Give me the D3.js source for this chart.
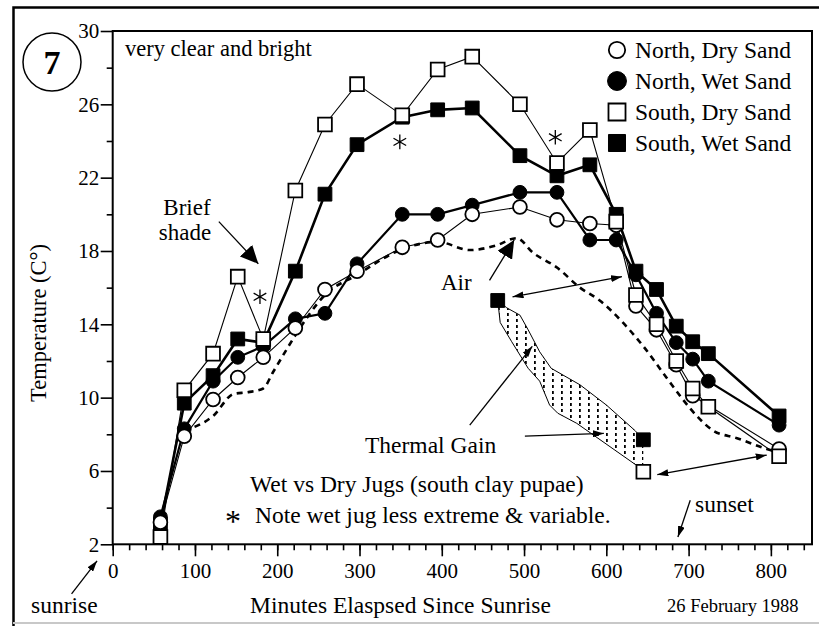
<!DOCTYPE html>
<html>
<head>
<meta charset="utf-8">
<script src="https://d3js.org/d3.v7.min.js"></script>
<style>
  body { margin: 0; background: #fff; }
  svg text { font-family: "Liberation Serif", "Times New Roman", serif; fill: #000; }
</style>
</head>
<body>
<svg id="chart" width="819" height="626"></svg>
<script>
// sample times (minutes since sunrise) and jug temperatures (C)
const minutes  = [58, 87, 122, 152, 183, 222, 258, 297, 352, 395, 437, 495, 540, 580, 612, 636, 661, 685, 705, 724, 810]
const northDry = [3.2, 7.9, 9.9, 11.1, 12.2, 13.8, 15.9, 16.9, 18.2, 18.6, 20.0, 20.4, 19.7, 19.5, 19.4, 15.0, 13.7, 11.8, 10.1, null, 7.2]
const northWet = [3.5, 8.3, 10.9, 12.2, 12.8, 14.3, 14.6, 17.3, 20.0, 20.0, 20.5, 21.2, 21.2, 18.6, 18.6, 16.7, 14.6, 13.0, 12.1, 10.9, 8.5]
const southDry = [2.4, 10.4, 12.4, 16.6, 13.2, 21.3, 24.9, 27.1, 25.4, 27.9, 28.6, 26.0, 22.8, 24.6, 19.6, 15.6, 14.0, 12.0, 10.5, 9.5, 6.8]
const southWet = [3.1, 9.7, 11.2, 13.2, 13.0, 16.9, 21.1, 23.8, 25.3, 25.7, 25.8, 23.2, 22.1, 22.7, 20.0, 16.9, 15.9, 13.9, 13.05, 12.4, 9.0]

// air temperature (dashed)
const airMinutes = [87, 122, 147, 165, 183, 195, 211, 222, 258, 297, 352, 395, 434, 466, 491, 511, 540, 568, 592, 620, 645, 673, 693, 710, 730, 758, 795, 810]
const airTemp    = [8.2, 9.0, 10.2, 10.3, 10.5, 11.4, 12.6, 13.4, 15.6, 16.7, 18.1, 18.5, 18.05, 18.3, 18.7, 17.9, 17.1, 16.0, 15.3, 14.1, 12.8, 11.1, 9.9, 9.0, 8.2, 7.8, 7.2, 7.0]

// thermal gain inset (south wet vs south dry, evening)
const gainWetMinutes = [468, 479, 495, 505, 519, 533, 568, 600, 635, 645]
const gainWetTemp    = [15.3, 14.9, 14.5, 13.7, 12.5, 11.6, 10.7, 9.6, 8.2, 7.7]
const gainDryMinutes = [468, 469, 471, 485, 505, 519, 531, 541, 564, 637, 645]
const gainDryTemp    = [15.3, 14.9, 14.1, 13.05, 11.6, 10.9, 9.6, 9.15, 8.6, 6.3, 5.96]

// asterisk notes (wet jug less extreme)
const starMinutes = [179, 349, 538]
const starTemp    = [15.5, 23.95, 24.2]

const seriesNames = ['North, Dry Sand', 'North, Wet Sand', 'South, Dry Sand', 'South, Wet Sand']
const xTicks = d3.range(0, 801, 100)
const yTicks = d3.range(2, 31, 4)

const svg = d3.select('#chart')
const x = d3.scaleLinear().domain([0, 850]).range([112.7, 812])
const y = d3.scaleLinear().domain([2, 30]).range([544.3, 31])

const series = [
  { name: seriesNames[0], values: northDry, shape: d3.symbolCircle, filled: false, lw: 1.1 },
  { name: seriesNames[1], values: northWet, shape: d3.symbolCircle, filled: true, lw: 2.2 },
  { name: seriesNames[2], values: southDry, shape: d3.symbolSquare, filled: false, lw: 1.1 },
  { name: seriesNames[3], values: southWet, shape: d3.symbolSquare, filled: true, lw: 2.6 }
]

// outer border
svg.append('path').attr('d', 'M13.5,626V7.5H819').attr('fill', 'none').attr('stroke', '#000').attr('stroke-width', 2.5)
svg.append('line').attr('x1', 13).attr('x2', 819).attr('y1', 623).attr('y2', 623).attr('stroke', '#c8c8c8').attr('stroke-width', 2)

// defs: arrow heads + dot pattern
const defs = svg.append('defs')
function head(id, len, half) {
  defs.append('marker').attr('id', id)
    .attr('viewBox', `${-len} ${-half} ${len} ${half * 2}`)
    .attr('refX', 0).attr('refY', 0)
    .attr('markerWidth', len).attr('markerHeight', half * 2)
    .attr('markerUnits', 'userSpaceOnUse')
    .attr('orient', 'auto-start-reverse')
    .append('path').attr('d', `M0,0L${-len},${-half}L${-len},${half}Z`).attr('fill', '#000')
}
head('big', 18, 8.5)
head('small', 11, 3.5)
const pat = defs.append('pattern').attr('id', 'dots').attr('patternUnits', 'userSpaceOnUse')
  .attr('width', 9).attr('height', 6)
pat.append('rect').attr('x', 3).attr('y', 1).attr('width', 1.8).attr('height', 3).attr('fill', '#000')

// plot frame
svg.append('rect')
  .attr('x', x(0)).attr('y', y(30))
  .attr('width', x(850) - x(0)).attr('height', y(2) - y(30))
  .attr('fill', 'none').attr('stroke', '#000').attr('stroke-width', 2)

// axes
function styleAxis(g, size) {
  g.select('.domain').remove()
  g.attr('font-size', size).attr('font-family', null)
  g.selectAll('.tick line').attr('stroke-width', 1.6)
}
svg.append('g').attr('transform', `translate(0,${y(2)})`)
  .call(d3.axisBottom(x).tickValues(d3.range(0, 841, 20)).tickSize(6).tickFormat(''))
  .call(g => styleAxis(g, 20))
svg.append('g').attr('transform', `translate(0,${y(2)})`)
  .call(d3.axisBottom(x).tickValues(xTicks).tickSize(12).tickPadding(7))
  .call(g => styleAxis(g, 21))
svg.append('g').attr('transform', `translate(${x(0)},0)`)
  .call(d3.axisLeft(y).tickValues(d3.range(4, 29, 4)).tickSize(6).tickFormat(''))
  .call(g => styleAxis(g, 20))
svg.append('g').attr('transform', `translate(${x(0)},0)`)
  .call(d3.axisLeft(y).tickValues(yTicks).tickSize(12).tickPadding(1.5))
  .call(g => styleAxis(g, 21))

// air line
const airLine = d3.line().x(d => x(d[0])).y(d => y(d[1])).curve(d3.curveMonotoneX)
svg.append('path')
  .attr('d', airLine(d3.zip(airMinutes, airTemp)))
  .attr('fill', 'none').attr('stroke', '#000').attr('stroke-width', 2.6)
  .attr('stroke-dasharray', '6,5')

// series lines
const line = d3.line().defined(d => d[1] != null).x(d => x(d[0])).y(d => y(d[1]))
series.forEach(s => {
  const pts = d3.zip(minutes, s.values).filter(d => d[1] != null)
  svg.append('path').attr('d', line(pts))
    .attr('fill', 'none').attr('stroke', '#000').attr('stroke-width', s.lw)
})

// series markers (filled first, open on top)
const drawOrder = [1, 3, 0, 2]
drawOrder.forEach(i => {
  const s = series[i]
  const sym = d3.symbol().type(s.shape).size(s.shape === d3.symbolSquare ? 190 : 150)
  svg.append('g').selectAll('path')
    .data(d3.zip(minutes, s.values).filter(d => d[1] != null))
    .join('path')
    .attr('transform', d => `translate(${x(d[0])},${y(d[1])})`)
    .attr('d', sym())
    .attr('fill', s.filled ? '#000' : '#fff')
    .attr('stroke', '#000').attr('stroke-width', s.filled ? 1 : 1.8)
})

// thermal gain inset
const gainWet = d3.zip(gainWetMinutes, gainWetTemp)
const gainDry = d3.zip(gainDryMinutes, gainDryTemp)
const gLine = d3.line().x(d => x(d[0])).y(d => y(d[1]))
svg.append('path').attr('d', gLine(gainWet.concat(gainDry.slice().reverse())) + 'Z')
  .attr('fill', 'url(#dots)').attr('stroke', 'none')
svg.append('path').attr('d', gLine(gainWet)).attr('fill', 'none').attr('stroke', '#000').attr('stroke-width', 1)
svg.append('path').attr('d', gLine(gainDry)).attr('fill', 'none').attr('stroke', '#000').attr('stroke-width', 1)
const sq = d3.symbol().type(d3.symbolSquare).size(190)
const gainMarks = [
  [gainWet[0], true], [gainWet[gainWet.length - 1], true], [gainDry[gainDry.length - 1], false]
]
svg.append('g').selectAll('path').data(gainMarks).join('path')
  .attr('transform', d => `translate(${x(d[0][0])},${y(d[0][1])})`)
  .attr('d', sq())
  .attr('fill', d => d[1] ? '#000' : '#fff')
  .attr('stroke', '#000').attr('stroke-width', d => d[1] ? 1 : 1.8)

// asterisks
svg.append('g').selectAll('path').data(d3.zip(starMinutes, starTemp)).join('path')
  .attr('transform', d => `translate(${x(d[0])},${y(d[1])})`)
  .attr('d', d3.symbol().type(d3.symbolAsterisk).size(150)())
  .attr('fill', 'none').attr('stroke', '#000').attr('stroke-width', 1.3)

// arrows (in data units)
const arrows = [
  { from: [129, 19.6], to: [177, 17.3], head: 'big', both: false },
  { from: [458, 16.4], to: [488, 18.6], head: 'big', both: false },
  { from: [434, 8.5], to: [510, 12.8], head: 'small', both: false },
  { from: [501, 7.9], to: [597, 8.05], head: 'small', both: false },
  { from: [486, 15.5], to: [619, 16.6], head: 'small', both: true },
  { from: [662, 5.8], to: [795, 6.87], head: 'small', both: true },
  { from: [-50, -0.7], to: [-19, 1.1], head: 'small', both: false },
  { from: [702, 4.4], to: [687, 2.4], head: 'small', both: false }
]
arrows.forEach(a => {
  const p = svg.append('line')
    .attr('x1', x(a.from[0])).attr('y1', y(a.from[1]))
    .attr('x2', x(a.to[0])).attr('y2', y(a.to[1]))
    .attr('stroke', '#000').attr('stroke-width', 1.3)
    .attr('marker-end', `url(#${a.head})`)
  if (a.both) p.attr('marker-start', `url(#${a.head})`)
})

// texts
function label(txt, px, py, size, anchor, extra) {
  const t = svg.append('text').attr('x', px).attr('y', py)
    .attr('font-size', size).attr('text-anchor', anchor || 'start').text(txt)
  if (extra) extra(t)
  return t
}
svg.append('circle').attr('cx', 52).attr('cy', 62).attr('r', 29).attr('fill', 'none').attr('stroke', '#000').attr('stroke-width', 1.5)
label('7', 52, 74, 34, 'middle', t => t.attr('font-weight', 'bold'))
label('very clear and bright', 125, 56, 22.5)
label('Brief', 187, 215, 23, 'middle')
label('shade', 185, 240, 23, 'middle')
label('Air', 441, 290, 23)
label('Thermal Gain', 365, 453, 23.5)
label('Wet vs Dry Jugs (south clay pupae)', 250, 492, 23.5)
const note = svg.append('text').attr('y', 523).attr('font-size', 23.5)
note.append('tspan').attr('x', 225).attr('dy', 9).attr('font-size', 32).text('*')
note.append('tspan').attr('x', 255).attr('dy', -9).text('Note wet jug less extreme & variable.')
label('sunrise', 31, 613, 23.5)
label('sunset', 695, 512, 23.5)
label('Minutes Elaspsed Since Sunrise', 250, 613, 23.5)
label('26 February 1988', 667, 612, 18.5)
label('Temperature (C\u00b0)', 0, 0, 22.5, 'middle', t => t.attr('transform', 'translate(46,323) rotate(-90)'))

// legend
const leg = svg.append('g')
series.forEach((s, i) => {
  const cy = 50 + i * 31
  const big = s.shape === d3.symbolSquare ? 290 : (s.filled ? 280 : 210)
  leg.append('path').attr('transform', `translate(617,${cy})`)
    .attr('d', d3.symbol().type(s.shape).size(big)())
    .attr('fill', s.filled ? '#000' : '#fff').attr('stroke', '#000').attr('stroke-width', s.filled ? 1 : 1.8)
  leg.append('text').attr('x', 635).attr('y', cy + 8).attr('font-size', 23.5).text(s.name)
})
</script>
</body>
</html>
